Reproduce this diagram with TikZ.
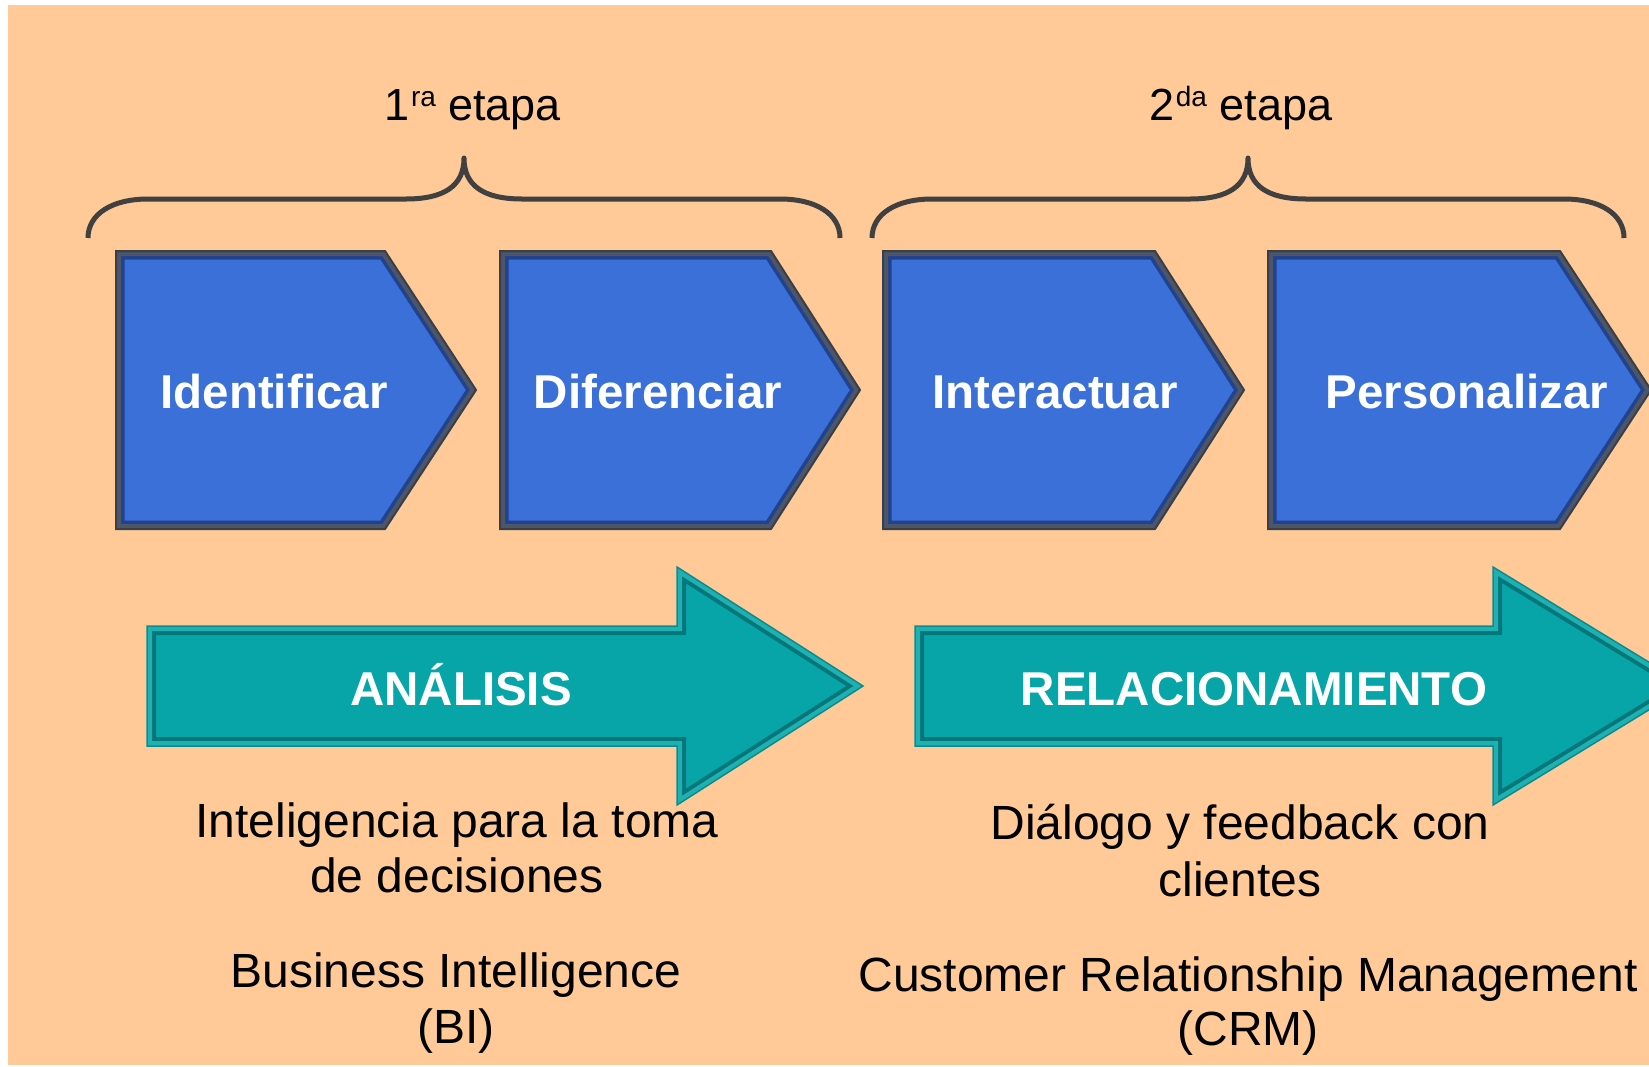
\documentclass[tikz,border=0pt]{standalone}
\usepackage{fontspec}
\setmainfont{Liberation Sans}
\definecolor{bgorange}{HTML}{FFCA98}
\definecolor{pentblue}{HTML}{3A70D8}
\definecolor{pentband}{HTML}{4C5668}
\definecolor{pentline}{HTML}{21428C}
\definecolor{pentedge}{HTML}{3A3E46}
\definecolor{tealfill}{HTML}{08A5A8}
\definecolor{tealband}{HTML}{1FB0B1}
\definecolor{tealline}{HTML}{05777A}
\definecolor{tealedge}{HTML}{0A8C8F}
\definecolor{bracegray}{HTML}{404040}
\tikzset{
  x=1pt, y=-1pt,
  bracestyle/.style={draw=bracegray, line width=5, line join=round},
  steptext/.style={anchor=base, text=white, inner sep=0,
    font=\fontsize{47.5}{55}\selectfont\bfseries},
  phasetext/.style={anchor=base, text=white, inner sep=0,
    font=\fontsize{47.5}{55}\selectfont\bfseries},
  bodytext/.style={anchor=base, text=black, inner sep=0,
    font=\fontsize{48}{55}\selectfont},
  etapatext/.style={anchor=base, text=black, inner sep=0,
    font=\fontsize{45}{50}\selectfont},
}
\newcommand\pentshape[3]{%
  \fill[pentblue] (#1,251) -- (#2,251) -- (#3,390) -- (#2,529) -- (#1,529) -- cycle;
  \begin{scope}
    \clip (#1,251) -- (#2,251) -- (#3,390) -- (#2,529) -- (#1,529) -- cycle;
    \draw[pentline, line width=17, line join=miter] (#1,251) -- (#2,251) -- (#3,390) -- (#2,529) -- (#1,529) -- cycle;
    \draw[pentband, line width=10, line join=miter] (#1,251) -- (#2,251) -- (#3,390) -- (#2,529) -- (#1,529) -- cycle;
  \end{scope}
  \draw[pentedge, line width=2, line join=miter] (#1,251) -- (#2,251) -- (#3,390) -- (#2,529) -- (#1,529) -- cycle;
}
\newcommand\arrowshape[3]{%
  \fill[tealfill] (#1,626) -- (#2,626) -- (#2,567) -- (#3,686) -- (#2,805) -- (#2,746) -- (#1,746) -- cycle;
  \begin{scope}
    \clip (#1,626) -- (#2,626) -- (#2,567) -- (#3,686) -- (#2,805) -- (#2,746) -- (#1,746) -- cycle;
    \draw[tealline, line width=18, line join=miter] (#1,626) -- (#2,626) -- (#2,567) -- (#3,686) -- (#2,805) -- (#2,746) -- (#1,746) -- cycle;
    \draw[tealband, line width=10, line join=miter] (#1,626) -- (#2,626) -- (#2,567) -- (#3,686) -- (#2,805) -- (#2,746) -- (#1,746) -- cycle;
  \end{scope}
  \draw[tealedge, line width=1.5, line join=miter] (#1,626) -- (#2,626) -- (#2,567) -- (#3,686) -- (#2,805) -- (#2,746) -- (#1,746) -- cycle;
}
\begin{document}
\begin{tikzpicture}
  \clip (0,0) rectangle (1649,1066);
  \fill[white] (0,0) rectangle (1649,1066);
  \fill[bgorange] (8,5) rectangle (1649,1065);

  % stage labels
  \node[etapatext] (etapa1) at (473,120) {1\kern1pt\raisebox{14pt}{\fontsize{28}{28}\selectfont ra} etapa};
  \node[etapatext] (etapa2) at (1241,120) {2\kern1pt\raisebox{14pt}{\fontsize{28}{28}\selectfont da} etapa};

  % braces
  \draw[bracestyle] (88,238) .. controls (88,214) and (112,199) .. (148,199) -- (406,199)
    .. controls (444,199) and (464,186) .. (464,158)
    .. controls (464,186) and (484,199) .. (522,199) -- (780,199)
    .. controls (816,199) and (840,214) .. (840,238);
  \draw[bracestyle] (872,238) .. controls (872,214) and (896,199) .. (932,199) -- (1190,199)
    .. controls (1228,199) and (1248,186) .. (1248,158)
    .. controls (1248,186) and (1268,199) .. (1306,199) -- (1564,199)
    .. controls (1600,199) and (1624,214) .. (1624,238);

  % step pentagons
  \pentshape{116}{385}{476}
  \pentshape{500}{771}{860}
  \pentshape{883}{1155}{1244}
  \pentshape{1268}{1560}{1651}
  \node[steptext] (identificar) at (274,408) {Identificar};
  \node[steptext] (diferenciar) at (658,408) {Diferenciar};
  \node[steptext] (interactuar) at (1055,408) {Interactuar};
  \node[steptext] (personalizar) at (1467,408) {Personalizar};

  % phase arrows
  \arrowshape{147}{677}{863}
  \arrowshape{915}{1493}{1688}
  \node[phasetext] (analisis) at (461,705) {ANÁLISIS};
  \node[phasetext] (relacion) at (1254,705) {RELACIONAMIENTO};

  % descriptions
  \node[bodytext] (intel1) at (457,837) {Inteligencia para la toma};
  \node[bodytext] (intel2) at (457,892) {de decisiones};
  \node[bodytext] (bi1) at (456,987) {Business Intelligence};
  \node[bodytext] (bi2) at (456,1043) {(BI)};
  \node[bodytext] (dial1) at (1240,839) {Diálogo y feedback con};
  \node[bodytext] (dial2) at (1240,896) {clientes};
  \node[bodytext] (crm1) at (1248,991) {Customer Relationship Management};
  \node[bodytext] (crm2) at (1248,1045) {(CRM)};
\end{tikzpicture}
\end{document}
